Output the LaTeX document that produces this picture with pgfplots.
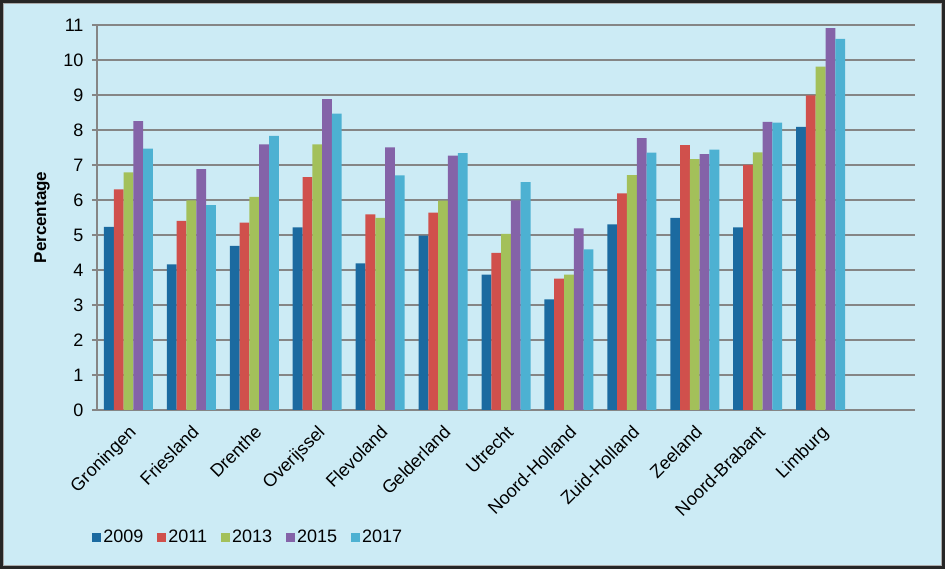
\documentclass[border=0pt]{standalone}
\usepackage{pgfplots}
\pgfplotsset{compat=1.18}
\usepackage{pgfplotstable}
\usepackage{fontspec}
\setmainfont{Liberation Sans}
\definecolor{bg}{HTML}{CCEBF5}
\definecolor{c1}{HTML}{1B6AA0}
\definecolor{c2}{HTML}{D0504C}
\definecolor{c3}{HTML}{A3C05A}
\definecolor{c4}{HTML}{8463A8}
\definecolor{c5}{HTML}{4DB1D2}
\definecolor{gridgray}{HTML}{858585}

\pgfplotstableread{
x y
0 5.23
1 4.16
2 4.69
3 5.22
4 4.19
5 4.98
6 3.87
7 3.16
8 5.30
9 5.49
10 5.22
11 8.09
}\dA
\pgfplotstableread{
x y
0 6.30
1 5.40
2 5.35
3 6.65
4 5.59
5 5.64
6 4.49
7 3.75
8 6.19
9 7.57
10 7.00
11 8.99
}\dB
\pgfplotstableread{
x y
0 6.79
1 5.99
2 6.09
3 7.59
4 5.49
5 5.98
6 5.03
7 3.87
8 6.71
9 7.17
10 7.36
11 9.81
}\dC
\pgfplotstableread{
x y
0 8.25
1 6.88
2 7.59
3 8.88
4 7.50
5 7.27
6 5.99
7 5.19
8 7.77
9 7.31
10 8.23
11 10.91
}\dD
\pgfplotstableread{
x y
0 7.47
1 5.85
2 7.83
3 8.47
4 6.70
5 7.34
6 6.51
7 4.59
8 7.35
9 7.44
10 8.21
11 10.60
}\dE

\begin{document}
\begin{tikzpicture}
\useasboundingbox (0,0) rectangle (945bp,569bp);
\fill[black!85] (0,0) rectangle (945bp,569bp);
\fill[gridgray!70] (3bp,3bp) rectangle (942bp,566bp);
\fill[bg] (4bp,4bp) rectangle (941bp,565bp);
\begin{axis}[
  at={(97bp,159bp)}, anchor=south west,
  scale only axis, width=818bp, height=385bp,
  xmin=-0.5, xmax=12.5, ymin=0, ymax=11,
  ybar=0pt, bar width=9.8bp,
  axis x line=bottom, axis y line=left,
  axis line style={gridgray, line width=1.5bp, -},
  ymajorgrids, major grid style={gridgray, line width=1.5bp},
  ytick={0,1,...,11},
  ytick style={gridgray, line width=1.5bp},
  tick align=outside, major tick length=5bp,
  xtick={0,...,11},
  xtick style={draw=none},
  xticklabels={Groningen,Friesland,Drenthe,Overijssel,Flevoland,Gelderland,Utrecht,Noord-Holland,Zuid-Holland,Zeeland,Noord-Brabant,Limburg},
  x tick label style={rotate=45, anchor=north east, inner sep=2bp, xshift=-5bp, yshift=-4bp},
  y tick label style={xshift=-5bp},
  tick label style={font=\fontsize{18bp}{20bp}\selectfont},
  /pgf/number format/assume math mode=true,
  ylabel={Percentage},
  ylabel style={font=\fontsize{17bp}{20bp}\selectfont\bfseries, at={(axis description cs:-0.0672,0.5)}, anchor=center},
  legend style={at={(axis description cs:-0.006,-0.33)}, anchor=west, draw=none, fill=none,
    font=\fontsize{18bp}{20bp}\selectfont, inner sep=0pt,
    /tikz/every even column/.append style={column sep=12bp}},
  legend columns=-1,
]
\addplot[fill=c1, draw=none, legend image code/.code={\fill[c1] (0bp,-4.5bp) rectangle (9bp,4.5bp);}] table[x=x,y=y] {\dA};
\addplot[fill=c2, draw=none, legend image code/.code={\fill[c2] (0bp,-4.5bp) rectangle (9bp,4.5bp);}] table[x=x,y=y] {\dB};
\addplot[fill=c3, draw=none, legend image code/.code={\fill[c3] (0bp,-4.5bp) rectangle (9bp,4.5bp);}] table[x=x,y=y] {\dC};
\addplot[fill=c4, draw=none, legend image code/.code={\fill[c4] (0bp,-4.5bp) rectangle (9bp,4.5bp);}] table[x=x,y=y] {\dD};
\addplot[fill=c5, draw=none, legend image code/.code={\fill[c5] (0bp,-4.5bp) rectangle (9bp,4.5bp);}] table[x=x,y=y] {\dE};
\legend{2009,2011,2013,2015,2017}
\end{axis}
\end{tikzpicture}
\end{document}
